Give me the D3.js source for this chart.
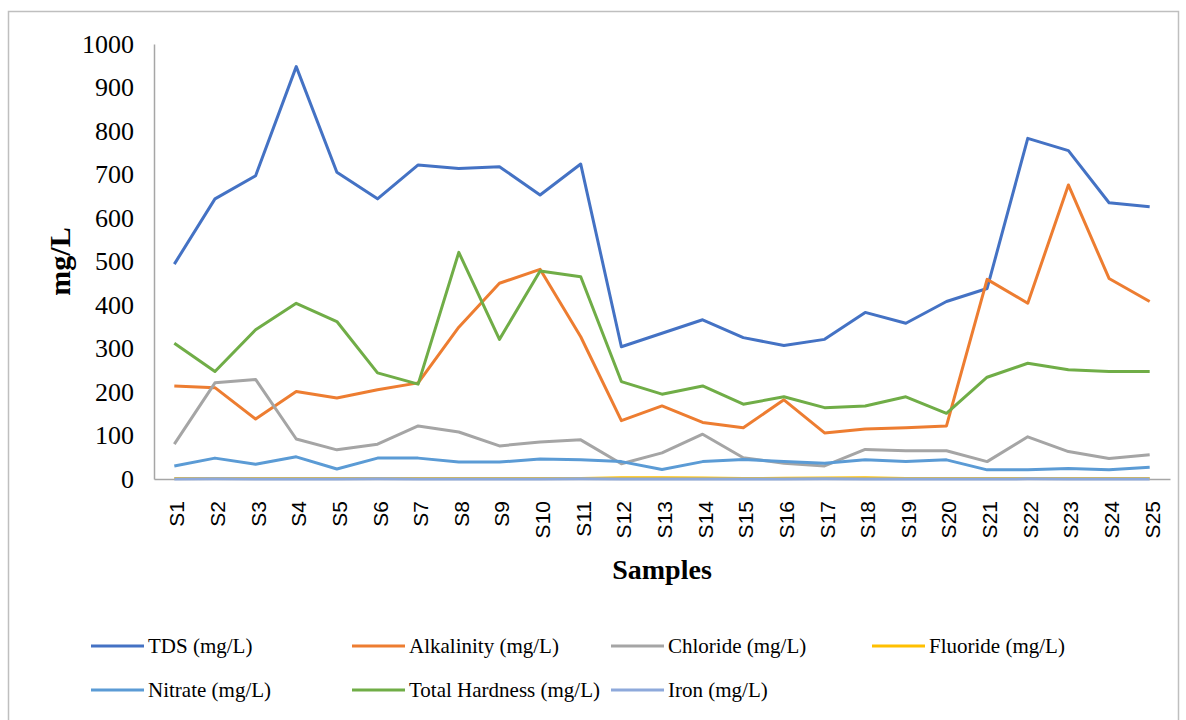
<!DOCTYPE html>
<html>
<head>
<meta charset="utf-8">
<script src="https://cdn.jsdelivr.net/npm/d3@7"></script>
<style>
  html, body { margin: 0; padding: 0; background: #fff; }
  svg { display: block; }
</style>
</head>
<body>
<svg id="chart" width="1186" height="720"></svg>
<script>
// ---- data ----
const samples = ["S1","S2","S3","S4","S5","S6","S7","S8","S9","S10","S11","S12","S13","S14","S15","S16","S17","S18","S19","S20","S21","S22","S23","S24","S25"];
const tds = [494, 644, 697, 948, 705, 644, 722, 714, 718, 653, 724, 304, 335, 366, 325, 307, 321, 383, 358, 408, 438, 783, 755, 635, 626];
const alkalinity = [214, 210, 138, 201, 186, 205, 221, 349, 450, 482, 327, 134, 168, 130, 118, 182, 106, 115, 118, 122, 459, 404, 676, 461, 408];
const chloride = [80, 221, 229, 92, 67, 80, 122, 108, 76, 85, 90, 35, 60, 103, 49, 36, 30, 68, 65, 65, 40, 97, 63, 47, 56];
const fluoride = [1.2, 1.1, 1.0, 1.3, 0.9, 1.1, 1.2, 1.0, 1.1, 1.2, 1.4, 2.6, 2.8, 2.5, 1.2, 1.5, 2.4, 2.6, 1.0, 1.1, 1.0, 1.2, 1.1, 1.0, 1.2];
const nitrate = [30, 48, 34, 51, 23, 48, 48, 39, 39, 46, 44, 40, 22, 40, 45, 40, 36, 44, 40, 44, 21, 21, 24, 21, 27];
const totalHardness = [312, 247, 343, 404, 362, 244, 218, 521, 321, 478, 465, 224, 195, 214, 172, 189, 164, 168, 189, 151, 234, 266, 251, 247, 247];
const iron = [0.2, 0.3, 0.2, 0.1, 0.2, 0.3, 0.2, 0.2, 0.1, 0.2, 0.3, 0.2, 0.2, 0.1, 0.2, 0.2, 0.3, 0.2, 0.1, 0.2, 0.2, 0.3, 0.2, 0.2, 0.1];
const yTicks = [0, 100, 200, 300, 400, 500, 600, 700, 800, 900, 1000];

const seriesNames = ["TDS (mg/L)", "Alkalinity (mg/L)", "Chloride (mg/L)", "Fluoride (mg/L)", "Nitrate (mg/L)", "Total Hardness (mg/L)", "Iron (mg/L)"];
const seriesColors = ["#4472C4", "#ED7D31", "#A5A5A5", "#FFC000", "#5B9BD5", "#70AD47", "#8EA9DB"];
const seriesValues = [tds, alkalinity, chloride, fluoride, nitrate, totalHardness, iron];

// ---- layout ----
const svg = d3.select("#chart");
const plot = { left: 154, right: 1170, top: 44, bottom: 479 };

// outer frame
svg.append("rect")
  .attr("x", 8.5).attr("y", 11.5)
  .attr("width", 1170).attr("height", 720)
  .attr("fill", "#fff").attr("stroke", "#BFBFBF").attr("stroke-width", 1.5);

const x = d3.scaleBand().domain(samples).range([plot.left, plot.right]).padding(0);
const y = d3.scaleLinear().domain([0, 1000]).range([plot.bottom, plot.top]);

// y axis
const yAxis = d3.axisLeft(y).tickValues(yTicks).tickSize(0).tickPadding(20).tickFormat(d3.format("d"));
const gy = svg.append("g").attr("transform", `translate(${plot.left},0)`).call(yAxis);
gy.select(".domain").attr("stroke", "#A6A6A6").attr("stroke-width", 1.5);
gy.selectAll("text")
  .attr("font-family", "'Liberation Serif', 'Times New Roman', serif")
  .attr("font-size", 26).attr("fill", "#000");

// x axis
const xAxis = d3.axisBottom(x).tickSize(0).tickPadding(0);
const gx = svg.append("g").attr("transform", `translate(0,${plot.bottom})`).call(xAxis);
gx.select(".domain").attr("stroke", "#A6A6A6").attr("stroke-width", 1.5);
gx.selectAll("text")
  .attr("font-family", "'Liberation Sans', Arial, sans-serif")
  .attr("font-size", 21).attr("fill", "#000")
  .attr("text-anchor", "end")
  .attr("dy", null)
  .attr("transform", "translate(10,22) rotate(-90)");

// lines
const line = d3.line()
  .x((d, i) => x(samples[i]) + x.bandwidth() / 2)
  .y(d => y(d));

seriesValues.forEach((vals, k) => {
  svg.append("path")
    .datum(vals)
    .attr("fill", "none")
    .attr("stroke", seriesColors[k])
    .attr("stroke-width", 3)
    .attr("stroke-linejoin", "round")
    .attr("d", line);
});

// axis titles
svg.append("text")
  .attr("transform", `translate(70,${(plot.top + plot.bottom) / 2}) rotate(-90)`)
  .attr("text-anchor", "middle")
  .attr("font-family", "'Liberation Serif', 'Times New Roman', serif")
  .attr("font-weight", "bold").attr("font-size", 30)
  .text("mg/L");

svg.append("text")
  .attr("x", (plot.left + plot.right) / 2).attr("y", 579)
  .attr("text-anchor", "middle")
  .attr("font-family", "'Liberation Serif', 'Times New Roman', serif")
  .attr("font-weight", "bold").attr("font-size", 28)
  .text("Samples");

// legend
const legendCols = [91, 352, 611, 872];
const legendRows = [646, 690];
seriesNames.forEach((name, k) => {
  const cx = legendCols[k % 4];
  const cy = legendRows[Math.floor(k / 4)];
  const g = svg.append("g");
  g.append("line")
    .attr("x1", cx).attr("x2", cx + 53)
    .attr("y1", cy).attr("y2", cy)
    .attr("stroke", seriesColors[k]).attr("stroke-width", 3);
  g.append("text")
    .attr("x", cx + 57).attr("y", cy + 7)
    .attr("font-family", "'Liberation Serif', 'Times New Roman', serif")
    .attr("font-size", 21).attr("fill", "#000")
    .text(name);
});
</script>
</body>
</html>
